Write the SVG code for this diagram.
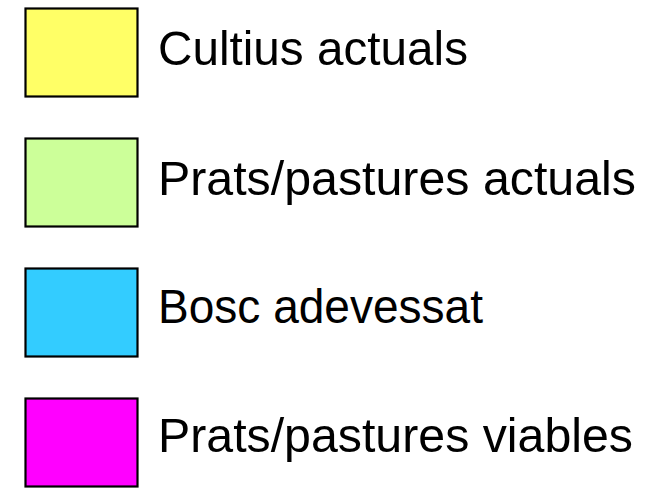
<svg xmlns="http://www.w3.org/2000/svg" width="658" height="488" viewBox="0 0 658 488">
<style>
.box{stroke:#000;stroke-width:2.2}
.lbl{font-family:"Liberation Sans",Arial,sans-serif;font-size:49px;fill:#000}
</style>
<rect width="658" height="488" fill="#fff"/>
<g id="item-cultius">
<rect class="box" x="25.5" y="8.5" width="112" height="88" fill="#FFFF66"/>
<text class="lbl" x="158" y="65" textLength="310" lengthAdjust="spacingAndGlyphs">Cultius actuals</text>
</g>
<g id="item-prats-actuals">
<rect class="box" x="25.5" y="138.5" width="112" height="88" fill="#CCFF99"/>
<text class="lbl" x="158" y="195" textLength="478" lengthAdjust="spacingAndGlyphs">Prats/pastures actuals</text>
</g>
<g id="item-bosc">
<rect class="box" x="25.5" y="268.5" width="112" height="88" fill="#33CCFF"/>
<text class="lbl" x="158" y="323" textLength="325" lengthAdjust="spacingAndGlyphs">Bosc adevessat</text>
</g>
<g id="item-prats-viables">
<rect class="box" x="25.5" y="398.5" width="112" height="88" fill="#FF00FF"/>
<text class="lbl" x="158" y="452" textLength="475" lengthAdjust="spacingAndGlyphs">Prats/pastures viables</text>
</g>
<g id="connectors"/>
</svg>
